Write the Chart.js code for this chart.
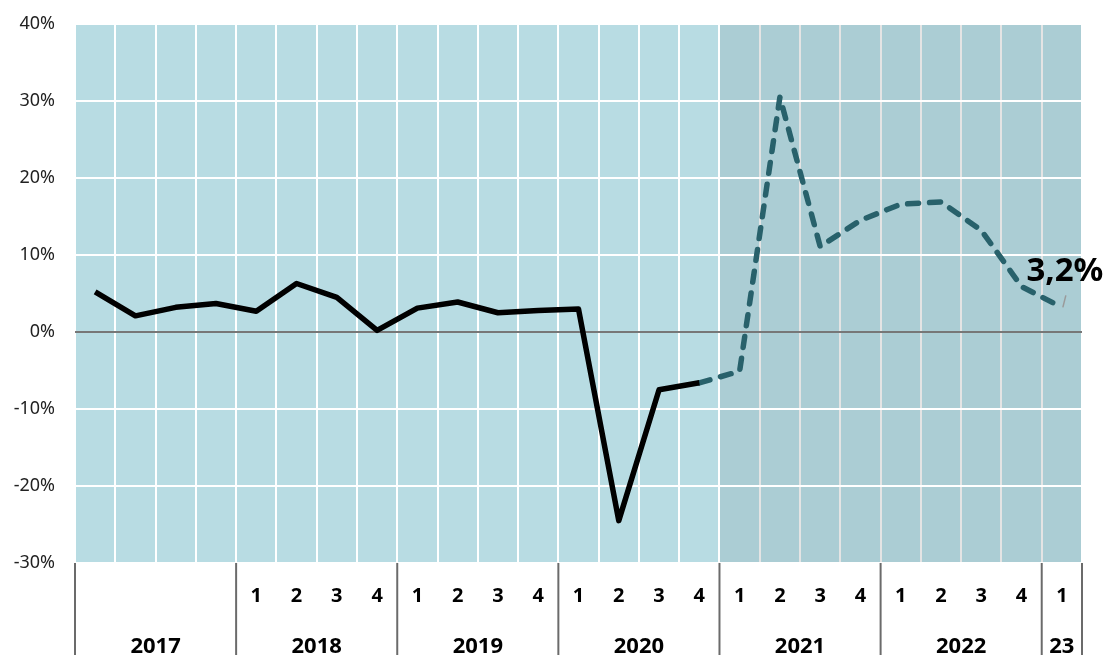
<!DOCTYPE html>
<html><head><meta charset="utf-8">
<script src="https://cdn.jsdelivr.net/npm/chart.js@4.4.1/dist/chart.umd.min.js"></script>
<style>html,body{margin:0;padding:0;background:#fff;overflow:hidden}canvas{display:block}</style>
</head><body>
<canvas id="c" width="1108" height="655"></canvas>
<script>
// ---- data ----
const years = ['2017', '2018', '2019', '2020', '2021', '2022', '23'];
const quartersPerYear = [4, 4, 4, 4, 4, 4, 1];
const quarterLabels = ['', '', '', '',
  '1', '2', '3', '4',
  '1', '2', '3', '4',
  '1', '2', '3', '4',
  '1', '2', '3', '4',
  '1', '2', '3', '4',
  '1'];
const actual = [5.2, 2.1, 3.2, 3.7, 2.7, 6.3, 4.5, 0.2, 3.1, 3.9, 2.5, 2.8, 3.0, -24.5, -7.5, -6.6,
  null, null, null, null, null, null, null, null, null];
const forecast = [null, null, null, null, null, null, null, null, null, null, null, null, null, null, null,
  -6.6, -5.1, 30.5, 11.1, 14.5, 16.6, 16.9, 13.2, 5.9, 3.2];
const yMin = -30, yMax = 40, yStep = 10;
const forecastStartIndex = 16;
const endLabelIndex = 24;

// category ids built from years / quarters
const categories = [];
years.forEach((y, i) => { for (let q = 0; q < quartersPerYear[i]; q++) categories.push(y + '-' + (q + 1)); });

const FONT = "'Noto Sans', 'Open Sans', sans-serif";

const decorPlugin = {
  id: 'decor',
  beforeDraw(chart) {
    const { ctx, chartArea: a, scales: { x } } = chart;
    const half = (x.getPixelForValue(1) - x.getPixelForValue(0)) / 2;
    const xs = x.getPixelForValue(forecastStartIndex) - half;
    ctx.save();
    ctx.fillStyle = '#b8dce3';
    ctx.fillRect(a.left, a.top, xs - a.left, a.bottom - a.top);
    ctx.fillStyle = '#abcdd4';
    ctx.fillRect(xs, a.top, a.right - xs, a.bottom - a.top);
    ctx.restore();
  },
  beforeDatasetsDraw(chart) {
    const { ctx, chartArea: a, scales: { y } } = chart;
    const y0 = y.getPixelForValue(0);
    ctx.save();
    ctx.strokeStyle = '#777777';
    ctx.lineWidth = 2;
    ctx.beginPath();
    ctx.moveTo(a.left, y0);
    ctx.lineTo(a.right, y0);
    ctx.stroke();
    ctx.restore();
  },
  afterDatasetsDraw(chart) {
    const { ctx, scales: { x, y } } = chart;
    const v = forecast[endLabelIndex];
    const px = x.getPixelForValue(endLabelIndex);
    const py = y.getPixelForValue(v);
    ctx.save();
    ctx.strokeStyle = '#9a9a9a';
    ctx.lineWidth = 1.5;
    ctx.beginPath();
    ctx.moveTo(px + 4, py - 12);
    ctx.lineTo(px + 1, py);
    ctx.stroke();
    ctx.fillStyle = '#000';
    ctx.font = 'bold 33px ' + FONT;
    ctx.textAlign = 'center';
    ctx.textBaseline = 'alphabetic';
    ctx.fillText(v.toFixed(1).replace('.', ',') + '%', px + 3, py - 26);
    ctx.restore();
  },
  afterDraw(chart) {
    const { ctx, chartArea: a, scales: { x } } = chart;
    const half = (x.getPixelForValue(1) - x.getPixelForValue(0)) / 2;
    const H = chart.height;
    ctx.save();
    ctx.strokeStyle = '#6b6b6b';
    ctx.lineWidth = 2;
    let idx = 0;
    const seps = [];
    years.forEach((yr, i) => {
      const left = x.getPixelForValue(idx) - half;
      const right = x.getPixelForValue(idx + quartersPerYear[i] - 1) + half;
      seps.push(left);
      if (i === years.length - 1) seps.push(right);
      ctx.fillStyle = '#000';
      ctx.font = 'bold 22px ' + FONT;
      ctx.textAlign = 'center';
      ctx.textBaseline = 'alphabetic';
      ctx.fillText(yr, (left + right) / 2, 653);
      idx += quartersPerYear[i];
    });
    seps.forEach(sx => {
      ctx.beginPath();
      ctx.moveTo(sx, a.bottom);
      ctx.lineTo(sx, H);
      ctx.stroke();
    });
    ctx.restore();
  }
};

new Chart(document.getElementById('c'), {
  type: 'line',
  data: {
    labels: categories,
    datasets: [
      { data: actual, borderColor: '#000000', borderWidth: 5.5, borderJoinStyle: 'round',
        pointRadius: 0, tension: 0, spanGaps: false },
      { data: forecast, borderColor: '#28616b', borderWidth: 5.5, borderDash: [11, 11], borderCapStyle: 'round',
        borderJoinStyle: 'round', pointRadius: 0, tension: 0, spanGaps: false }
    ]
  },
  options: {
    responsive: false,
    animation: false,
    devicePixelRatio: 1,
    layout: { padding: { top: 24, right: 26, left: 0, bottom: 0 } },
    plugins: { legend: { display: false }, tooltip: { enabled: false } },
    scales: {
      x: {
        type: 'category',
        offset: true,
        grid: {
          offset: true,
          drawTicks: false,
          lineWidth: 2,
          color: ctx => (ctx.index > forecastStartIndex ? '#e4e4e4' : '#ffffff')
        },
        border: { display: false },
        ticks: {
          autoSkip: false,
          maxRotation: 0,
          padding: 21,
          color: '#000',
          font: { family: FONT, size: 20, weight: 'bold' },
          callback: (v, i) => quarterLabels[i]
        },
        afterFit: s => { s.height = 92; s.paddingLeft = 0; s.paddingRight = 0; }
      },
      y: {
        min: yMin,
        max: yMax,
        grid: { drawTicks: false, lineWidth: 2, color: '#ffffff' },
        border: { display: false },
        ticks: {
          stepSize: yStep,
          padding: 20,
          color: '#222',
          font: { family: FONT, size: 18 },
          callback: v => v + '%'
        },
        afterFit: s => { s.width = 75; s.paddingTop = 0; s.paddingBottom = 0; }
      }
    }
  },
  plugins: [decorPlugin]
});
</script>
</body></html>
